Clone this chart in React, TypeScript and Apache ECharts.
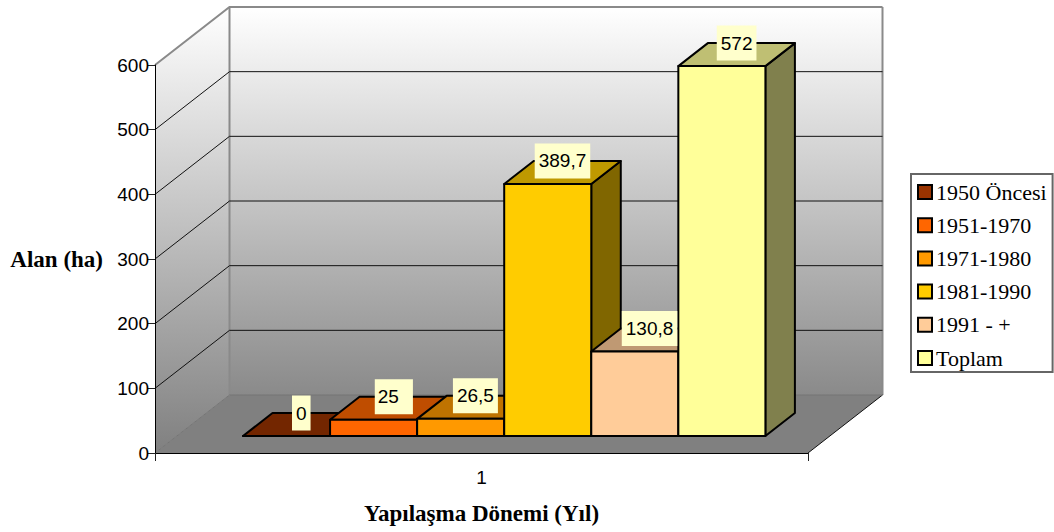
import React, { useEffect, useRef } from "react";
import * as echarts from "echarts";

const categories = ["1"];
const seriesNames = ["1950 Öncesi", "1951-1970", "1971-1980", "1981-1990", "1991 - +", "Toplam"];
const seriesValues = [0, 25, 26.5, 389.7, 130.8, 572];
const seriesColors = ["#993300", "#FF6600", "#FF9900", "#FFCC00", "#FFCC99", "#FFFF99"];
const yTicks = [0, 100, 200, 300, 400, 500, 600];

const WALL = { dx: 74.5, dy: -58 };
const FRONT = { dx: 22.7, dy: -17 };
const DEPTH = { dx: 29.5, dy: -23 };
const SANS = "'Liberation Sans', Arial, sans-serif";
const SERIF = "'Liberation Serif', 'Times New Roman', serif";

function shade(hex: string, k: number) {
  const n = parseInt(hex.slice(1), 16);
  const c = [(n >> 16) & 255, (n >> 8) & 255, n & 255].map((v) => Math.round(v * k));
  return `rgb(${c[0]},${c[1]},${c[2]})`;
}

function renderWalls(_: any, api: any) {
  const tick = api.value(1);
  const [xl, y] = api.coord([0, tick]);
  const band = api.size([1, 0])[0];
  const xLeft = xl - band / 2;
  const xRight = xl + band / 2;
  const [, y0] = api.coord([0, 0]);
  const [, yTop] = api.coord([0, 600]);
  const children: any[] = [];
  const grad = (stops: [number, string][]) =>
    new echarts.graphic.LinearGradient(0, 0, 0, 1, stops.map(([offset, color]) => ({ offset, color })));
  if (tick === 0) {
    children.push({
      type: "polygon",
      shape: { points: [[xLeft, yTop], [xLeft + WALL.dx, yTop + WALL.dy], [xLeft + WALL.dx, y0 + WALL.dy], [xLeft, y0]] },
      style: { fill: grad([[0, "#ffffff"], [1, "#808080"]]), stroke: "none" },
    });
    children.push({
      type: "rect",
      shape: { x: xLeft + WALL.dx, y: yTop + WALL.dy, width: band, height: y0 - yTop },
      style: { fill: grad([[0, "#ffffff"], [1, "#8a8a8a"]]), stroke: "none" },
    });
    children.push({
      type: "polygon",
      shape: { points: [[xLeft, y0], [xLeft + WALL.dx, y0 + WALL.dy], [xRight + WALL.dx, y0 + WALL.dy], [xRight, y0]] },
      style: { fill: "#808080", stroke: "none" },
    });
    children.push({
      type: "polyline",
      shape: { points: [[xLeft + WALL.dx, yTop + WALL.dy], [xLeft + WALL.dx, y0 + WALL.dy]] },
      style: { stroke: "#8a8a8a", lineWidth: 2, fill: "none" },
    });
    children.push({
      type: "polyline",
      shape: { points: [[xRight + WALL.dx, yTop + WALL.dy], [xRight + WALL.dx, y0 + WALL.dy]] },
      style: { stroke: "#8a8a8a", lineWidth: 2, fill: "none" },
    });
    children.push({
      type: "polyline",
      shape: { points: [[xRight, y0], [xRight + WALL.dx, y0 + WALL.dy]] },
      style: { stroke: "#111", lineWidth: 1, fill: "none" },
    });
    children.push({
      type: "polyline",
      shape: { points: [[xLeft, y0], [xLeft + WALL.dx, y0 + WALL.dy], [xRight + WALL.dx, y0 + WALL.dy]] },
      style: { stroke: "#757575", lineWidth: 1, fill: "none" },
    });
  } else {
    const isTop = tick === 600;
    children.push({
      type: "polyline",
      shape: { points: [[xLeft, y], [xLeft + WALL.dx, y + WALL.dy], [xRight + WALL.dx, y + WALL.dy]] },
      style: { stroke: isTop ? "#8a8a8a" : "#111", lineWidth: isTop ? 2 : 1, fill: "none" },
    });
  }
  return { type: "group", children };
}

function barGeometry(i: number, api: any) {
  const band = api.size([1, 0])[0];
  const [cx, yv] = api.coord([api.value(0), api.value(1)]);
  const [, y0] = api.coord([api.value(0), 0]);
  const w = (band * 0.8) / seriesValues.length;
  const x = cx - band * 0.4 + i * w + FRONT.dx;
  return { x, w, top: yv + FRONT.dy, base: y0 + FRONT.dy };
}

function makeBarRenderer(i: number) {
  return (_: any, api: any) => {
    const { x, w, top, base } = barGeometry(i, api);
    const c = seriesColors[i];
    const line = { stroke: "#000", lineWidth: 2, lineJoin: "round" };
    const children: any[] = [];
    children.push({
      type: "polygon",
      shape: { points: [[x + w, top], [x + w + DEPTH.dx, top + DEPTH.dy], [x + w + DEPTH.dx, base + DEPTH.dy], [x + w, base]] },
      style: { fill: shade(c, 0.5), ...line },
    });
    children.push({
      type: "polygon",
      shape: { points: [[x, top], [x + DEPTH.dx, top + DEPTH.dy], [x + w + DEPTH.dx, top + DEPTH.dy], [x + w, top]] },
      style: { fill: shade(c, 0.75), ...line },
    });
    children.push({
      type: "rect",
      shape: { x, y: top, width: w, height: base - top },
      style: { fill: c, ...line },
    });
    return { type: "group", children };
  };
}

function renderLabel(params: any, api: any) {
  const i = params.dataIndex;
  const { x, w, top } = barGeometry(i, api);
  const cx = x + w / 2 + DEPTH.dx / 2;
  const wide = seriesValues[i] === 25;
  return {
    type: "text",
    x: cx + (wide ? 5.5 : 0),
    y: top + DEPTH.dy,
    style: {
      text: String(seriesValues[i]).replace(".", ","),
      font: `19px ${SANS}`,
      fill: "#000",
      align: "center",
      verticalAlign: "middle",
      backgroundColor: "#FFFFCC",
      padding: wide ? [8, 14, 8, 3] : [8, 4, 8, 4],
    },
  };
}

export default function App() {
  const ref = useRef<HTMLDivElement>(null);
  useEffect(() => {
    document.body.style.margin = "0";
    const chart = echarts.init(ref.current!, undefined, { renderer: "svg" });
    chart.setOption({
      animation: false,
      backgroundColor: "#fff",
      grid: { left: 155, right: 246, top: 65, bottom: 79, containLabel: false, outerBoundsMode: "none" },
      legend: {
        show: true,
        orient: "vertical",
        left: 911,
        top: 174,
        width: 141,
        data: seriesNames,
        icon: "rect",
        itemWidth: 14,
        itemHeight: 14,
        itemGap: 9.2,
        padding: [6, 6, 2, 6],
        backgroundColor: "#fff",
        borderColor: "#666",
        borderWidth: 2,
        selectedMode: false,
        textStyle: { fontFamily: SERIF, fontSize: 22, color: "#000", padding: [0, 0, 0, -1], lineHeight: 24 },
      },
      xAxis: {
        type: "category",
        data: categories,
        z: 20,
        name: "Yapılaşma Dönemi (Yıl)",
        nameLocation: "middle",
        nameGap: 49,
        nameTextStyle: { fontFamily: SERIF, fontWeight: "bold", fontSize: 23, color: "#000" },
        axisLine: { show: true, lineStyle: { color: "#000", width: 1 } },
        axisTick: { show: true, length: 8, lineStyle: { color: "#222" } },
        axisLabel: { fontFamily: SANS, fontSize: 19, color: "#000", margin: 15 },
      },
      yAxis: {
        type: "value",
        min: 0,
        max: 600,
        interval: 100,
        z: 20,
        name: "Alan (ha)",
        nameLocation: "middle",
        nameRotate: 0,
        nameGap: 52,
        nameTextStyle: { fontFamily: SERIF, fontWeight: "bold", fontSize: 23, color: "#000" },
        axisLine: { show: true, lineStyle: { color: "#000", width: 1 } },
        axisTick: { show: true, length: 8, lineStyle: { color: "#222" } },
        splitLine: { show: false },
        axisLabel: { fontFamily: SANS, fontSize: 19, color: "#000", margin: 6 },
      },
      series: [
        {
          type: "custom",
          name: "walls",
          z: 1,
          silent: true,
          clip: false,
          renderItem: renderWalls,
          data: yTicks.map((t) => [0, t]),
        },
        ...seriesNames.map((name, i) => ({
          type: "custom",
          name,
          z: 2 + i,
          clip: false,
          itemStyle: { color: seriesColors[i], borderColor: "#000", borderWidth: 2 },
          renderItem: makeBarRenderer(i),
          data: [[0, seriesValues[i]]],
        })),
        {
          type: "custom",
          name: "labels",
          z: 30,
          silent: true,
          clip: false,
          renderItem: renderLabel,
          data: seriesValues.map((v) => [0, v]),
        },
      ],
    });
    return () => chart.dispose();
  }, []);
  return <div ref={ref} style={{ position: "fixed", left: 0, top: 0, width: 1054, height: 532 }} />;
}
